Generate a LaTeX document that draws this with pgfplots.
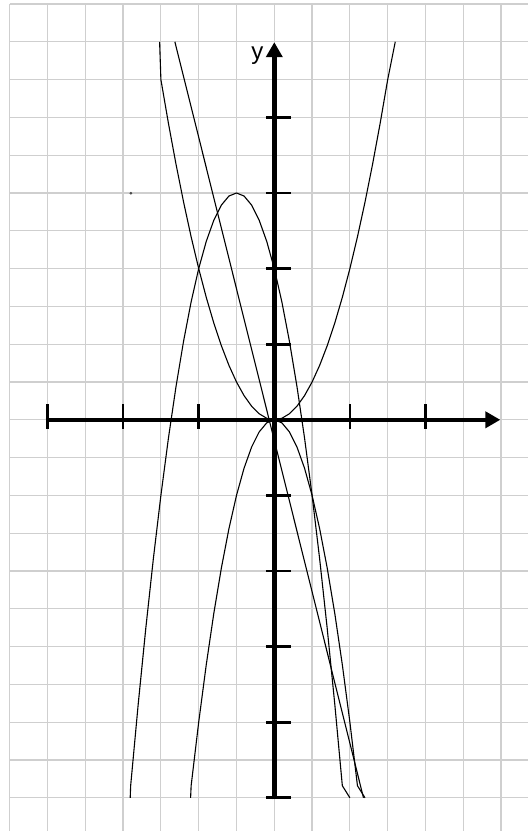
\documentclass[border=0pt]{standalone}
\usepackage{pgfplots}
\pgfplotsset{compat=1.18}
\usetikzlibrary{arrows.meta}
\usepackage{fontspec}
\setmainfont{Liberation Sans}
\begin{document}
\begin{tikzpicture}
\begin{axis}[name=ax, scale only axis, width=259.15pt, height=413.5pt,
  xmin=-3.5, xmax=3.356, ymin=-5.439, ymax=5.5,
  axis line style={draw=none}, tick style={draw=none},
  xtick={-3.5,-3,...,3}, ytick={-5,-4.5,...,5.5},
  xticklabels={}, yticklabels={},
  grid=major, grid style={black!19, line width=0.6pt},
  unbounded coords=jump, clip=true]
% axes
\addplot[black, line width=2.3pt, -{Triangle[length=7.5pt,width=8pt]}] coordinates {(-3.025,0) (2.99,0)};
\addplot[black, line width=2.3pt, -{Triangle[length=7.5pt,width=8pt]}] coordinates {(0,-5.02) (0,4.995)};
% ticks
\addplot[black, line width=1.35pt] coordinates {
(-3,-0.116) (-3,0.215) (-3,nan)
(-2,-0.116) (-2,0.215) (-2,nan)
(-1,-0.116) (-1,0.215) (-1,nan)
(1,-0.116) (1,0.215) (1,nan)
(2,-0.116) (2,0.215)};
\addplot[black, line width=1.35pt] coordinates {
(-0.112,4) (0.218,4) (0,nan)
(-0.112,3) (0.218,3) (0,nan)
(-0.112,2) (0.218,2) (0,nan)
(-0.112,1) (0.218,1) (0,nan)
(-0.112,-1) (0.218,-1) (0,nan)
(-0.112,-2) (0.218,-2) (0,nan)
(-0.112,-3) (0.218,-3) (0,nan)
(-0.112,-4) (0.218,-4) (0,nan)
(-0.112,-5) (0.218,-5)};
% curve A: upward parabola
\addplot[black, line width=0.55pt] coordinates {
(-1.517,5) (-1.5,4.5) (-1.4,3.92) (-1.3,3.38) (-1.2,2.88) (-1.1,2.42) (-1.0,2) (-0.9,1.62)
(-0.8,1.28) (-0.7,0.98) (-0.6,0.72) (-0.5,0.5) (-0.4,0.32) (-0.3,0.18) (-0.2,0.08) (-0.1,0.02)
(0,0) (0.1,0.02) (0.2,0.08) (0.3,0.18) (0.4,0.32) (0.5,0.5) (0.6,0.72) (0.7,0.98) (0.8,1.28)
(0.9,1.62) (1.0,2) (1.1,2.42) (1.2,2.88) (1.3,3.38) (1.4,3.92) (1.5,4.5) (1.6,5)};
% curve B: hump parabola
\addplot[black, line width=0.55pt] coordinates {
(-1.906,-5) (-1.9,-4.84) (-1.8,-3.76) (-1.7,-2.76) (-1.6,-1.84) (-1.5,-1) (-1.4,-0.24)
(-1.3,0.44) (-1.2,1.04) (-1.1,1.56) (-1.0,2) (-0.9,2.36) (-0.8,2.64) (-0.7,2.84) (-0.6,2.96)
(-0.5,3) (-0.4,2.96) (-0.3,2.84) (-0.2,2.64) (-0.1,2.36) (0,2) (0.1,1.56) (0.2,1.04) (0.3,0.44)
(0.4,-0.24) (0.5,-1) (0.6,-1.84) (0.7,-2.76) (0.8,-3.76) (0.9,-4.84) (1.0,-5)};
% curve C: downward parabola
\addplot[black, line width=0.55pt] coordinates {
(-1.107,-5) (-1.1,-4.84) (-1.0,-4) (-0.9,-3.24) (-0.8,-2.56) (-0.7,-1.96) (-0.6,-1.44)
(-0.5,-1) (-0.4,-0.64) (-0.3,-0.36) (-0.2,-0.16) (-0.1,-0.04) (0,0) (0.1,-0.04) (0.2,-0.16)
(0.3,-0.36) (0.4,-0.64) (0.5,-1) (0.6,-1.44) (0.7,-1.96) (0.8,-2.56) (0.9,-3.24) (1.0,-4)
(1.1,-4.84) (1.2,-5)};
% curve D: straight line
\addplot[black, line width=0.55pt] coordinates {(-1.315,5) (1.18,-5)};
% stray dot
\addplot[only marks, mark=*, mark size=0.45pt, black!70] coordinates {(-1.897,2.997)};
\node[anchor=base, font=\fontsize{12}{14}\selectfont] at (axis cs:-0.224,4.76) {y};
\end{axis}
\pgfresetboundingbox
\path[use as bounding box] ([xshift=-4.85pt]ax.south west) rectangle ([yshift=2pt]ax.north east);
\end{tikzpicture}
\end{document}
